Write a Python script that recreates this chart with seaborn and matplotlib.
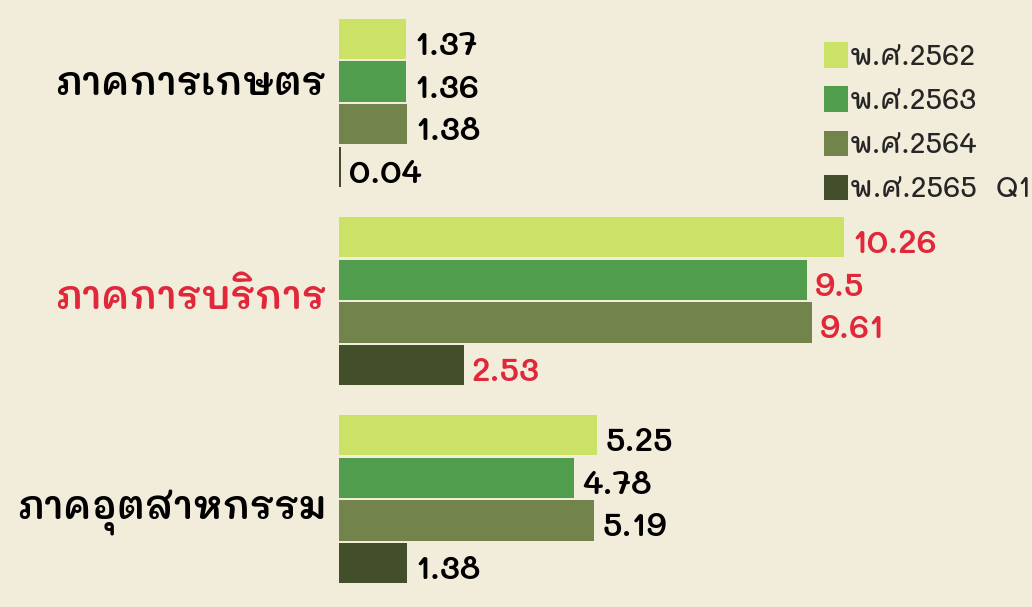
import numpy as np
import pandas as pd
import matplotlib
matplotlib.use('Agg')
import matplotlib.pyplot as plt
import seaborn as sns

BG = '#F2ECDB'
RED = '#E0283A'
PALETTE = ['#CBE266', '#519D4E', '#72834B', '#434F2B']

sectors = ['ภาคการเกษตร', 'ภาคการบริการ', 'ภาคอุตสาหกรรม']
years = ['พ.ศ.2562', 'พ.ศ.2563', 'พ.ศ.2564', 'พ.ศ.2565  Q1']
agri = [1.37, 1.36, 1.38, 0.04]
service = [10.26, 9.5, 9.61, 2.53]
industry = [5.25, 4.78, 5.19, 1.38]
value_labels = [['1.37', '1.36', '1.38', '0.04'],
                ['10.26', '9.5', '9.61', '2.53'],
                ['5.25', '4.78', '5.19', '1.38']]
label_colors = ['black', RED, 'black']
# sector labels are not exactly centred on their groups in the original
label_shift = [14, 2, -10]

sns.set_theme(style='white')
plt.rcParams['font.family'] = ['Mali', 'DejaVu Sans']

df = pd.DataFrame({
    'sector': np.repeat(sectors, len(years)),
    'year': years * len(sectors),
    'value': agri + service + industry,
})

fig = plt.figure(figsize=(10.32, 6.07), dpi=100, facecolor=BG)
ax = fig.add_axes([0.3285, 0, 0.6715, 1])
ax.set_facecolor(BG)
sns.barplot(data=df, y='sector', x='value', hue='year', order=sectors,
            hue_order=years, palette=PALETTE, orient='h', width=0.86,
            gap=0.05, linewidth=0, saturation=1, ax=ax)

ax.set_xlim(0, 14.08)
ax.set_ylim(2.545, -0.52)
for s in ax.spines.values():
    s.set_visible(False)
ax.set_xticks([])
ax.set_yticks([])
ax.set_xlabel('')
ax.set_ylabel('')

trans = ax.get_yaxis_transform()
for i, name in enumerate(sectors):
    ax.annotate(name, (0, i), xycoords=trans, xytext=(-9, label_shift[i]),
                textcoords='offset points', ha='right', va='center',
                fontsize=28, fontweight='semibold', color=label_colors[i])

for j, cont in enumerate(ax.containers):
    for i, bar in enumerate(cont):
        ax.annotate(value_labels[i][j],
                    (bar.get_width(), bar.get_y() + bar.get_height() / 2),
                    xytext=(6, -5), textcoords='offset points',
                    ha='left', va='center', fontsize=24, fontweight='semibold',
                    color=label_colors[i])

leg = ax.legend(loc='upper right', bbox_to_anchor=(1.019, 0.955), frameon=False,
                prop={'size': 20.5, 'weight': 'medium'}, handlelength=0.85,
                handleheight=1.0, handletextpad=0.05, labelspacing=0.5,
                borderaxespad=0.1)

fig.savefig('out.png', dpi=100, facecolor=BG)
